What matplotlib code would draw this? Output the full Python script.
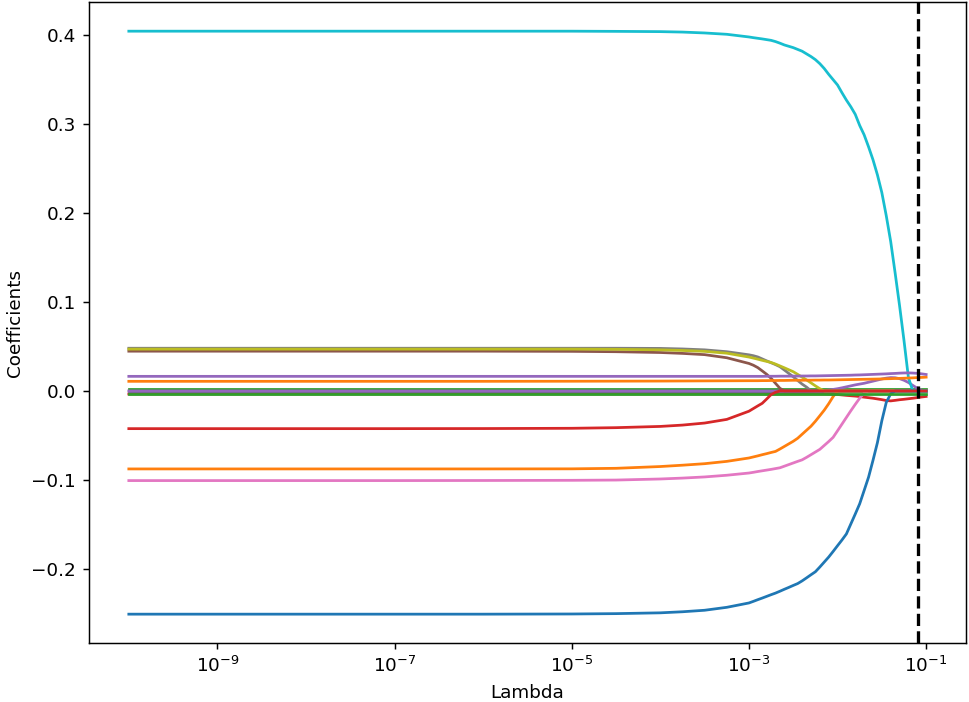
import numpy as np
import matplotlib
matplotlib.use("Agg")
import matplotlib.pyplot as plt
from matplotlib.ticker import NullLocator

# log10 of the regularisation strengths on the path
log_lambdas = ([-10, -7, -6, -5, -4.5, -4, -3.75, -3.5, -3.25]
               + [round(-3.0 + 0.05 * k, 2) for k in range(41)])

coef_00 = [-0.0005] * 50
coef_01 = ([-0.0877, -0.0877, -0.0877, -0.0876, -0.0870, -0.0850, -0.0835, -0.0818, -0.0792]
           + [-0.0754, -0.0742, -0.0730, -0.0717, -0.0705, -0.0692, -0.0680, -0.0653, -0.0624,
              -0.0595, -0.0566, -0.0532, -0.0487, -0.0442, -0.0397, -0.0341, -0.0279, -0.0216,
              -0.0144, -0.0064] + [0.0] * 21)
coef_02 = [0.0026] * 50
coef_03 = ([-0.0035] * 9 + [-0.0035] * 18
           + [-0.0037, -0.0038, -0.0040, -0.0045, -0.0050, -0.0054, -0.0058, -0.0063, -0.0070,
              -0.0076, -0.0082, -0.0090, -0.0098, -0.0108, -0.0112, -0.0106, -0.0099, -0.0094,
              -0.0088, -0.0082, -0.0075, -0.0068, -0.0062])
coef_04 = ([0.0] * 9 + [0.0] * 17
           + [0.0004, 0.0010, 0.0017, 0.0025, 0.0035, 0.0046, 0.0057, 0.0068, 0.0077, 0.0086,
              0.0098, 0.0110, 0.0122, 0.0134, 0.0144, 0.0150, 0.0148, 0.0138, 0.0120, 0.0095,
              0.0062, 0.0030, 0.0008, 0.0])
coef_05 = ([0.0447, 0.0447, 0.0447, 0.0445, 0.0441, 0.0432, 0.0422, 0.0408, 0.0373]
           + [0.0309, 0.0289, 0.0262, 0.0225, 0.0187, 0.0142, 0.0085, 0.0029] + [0.0] * 33)
coef_06 = ([-0.1008, -0.1008, -0.1007, -0.1005, -0.1002, -0.0990, -0.0980, -0.0967, -0.0948]
           + [-0.0923, -0.0915, -0.0906, -0.0898, -0.0890, -0.0882, -0.0873, -0.0864, -0.0846,
              -0.0828, -0.0810, -0.0792, -0.0775, -0.0747, -0.0717, -0.0687, -0.0657, -0.0613,
              -0.0569, -0.0522, -0.0448, -0.0373, -0.0298, -0.0223, -0.0151, -0.0082, -0.0024]
           + [0.0] * 14)
coef_07 = ([0.0480, 0.0480, 0.0480, 0.0480, 0.0480, 0.0478, 0.0472, 0.0462, 0.0441]
           + [0.0406, 0.0396, 0.0382, 0.0360, 0.0338, 0.0317, 0.0296, 0.0272, 0.0235, 0.0197,
              0.0159, 0.0118, 0.0077, 0.0043, 0.0002] + [0.0] * 26)
coef_08 = ([0.0470, 0.0470, 0.0470, 0.0470, 0.0468, 0.0462, 0.0455, 0.0445, 0.0424]
           + [0.0381, 0.0369, 0.0357, 0.0344, 0.0332, 0.0320, 0.0302, 0.0281, 0.0260, 0.0238,
              0.0216, 0.0186, 0.0155, 0.0124, 0.0091, 0.0057, 0.0025] + [0.0] * 24)
coef_09 = ([0.4045, 0.4045, 0.4045, 0.4045, 0.4043, 0.4040, 0.4035, 0.4025, 0.4010]
           + [0.3980, 0.3972, 0.3965, 0.3958, 0.3950, 0.3942, 0.3928, 0.3910, 0.3890, 0.3875,
              0.3860, 0.3840, 0.3820, 0.3790, 0.3760, 0.3725, 0.3680, 0.3625, 0.3560, 0.3500,
              0.3440, 0.3353, 0.3270, 0.3195, 0.3110, 0.2985, 0.2880, 0.2745, 0.2600, 0.2430,
              0.2230, 0.1970, 0.1680, 0.1327, 0.0960, 0.0568, 0.0150] + [0.0] * 4)
coef_10 = ([-0.2510, -0.2510, -0.2510, -0.2508, -0.2504, -0.2495, -0.2483, -0.2466, -0.2433]
           + [-0.2384, -0.2366, -0.2347, -0.2329, -0.2310, -0.2291, -0.2273, -0.2252, -0.2230,
              -0.2209, -0.2187, -0.2166, -0.2136, -0.2102, -0.2067, -0.2033, -0.1980, -0.1924,
              -0.1868, -0.1805, -0.1740, -0.1676, -0.1608, -0.1496, -0.1384, -0.1269, -0.1120,
              -0.0970, -0.0781, -0.0582, -0.0335, -0.0129, -0.0033] + [0.0] * 8)
coef_11 = ([0.0108, 0.0108, 0.0108, 0.0109, 0.0110, 0.0111, 0.0112, 0.0113, 0.0114]
           + [0.0115, 0.0115, 0.0115, 0.0116, 0.0116, 0.0117, 0.0117, 0.0118, 0.0118, 0.0119,
              0.0120, 0.0120, 0.0120, 0.0121, 0.0121, 0.0122, 0.0122, 0.0123, 0.0123, 0.0124,
              0.0125, 0.0126, 0.0127, 0.0128, 0.0129, 0.0130, 0.0131, 0.0132, 0.0133, 0.0134,
              0.0135, 0.0137, 0.0138, 0.0140, 0.0141, 0.0143, 0.0145, 0.0147, 0.0150, 0.0152,
              0.0155])
coef_12 = [-0.0035] * 50
coef_13 = ([-0.0424, -0.0424, -0.0423, -0.0420, -0.0413, -0.0399, -0.0384, -0.0361, -0.0320]
           + [-0.0228, -0.0198, -0.0168, -0.0139, -0.0091, -0.0041, -0.0015] + [0.0] * 34)
coef_14 = ([0.0164] * 9
           + [0.0164, 0.0164, 0.0164, 0.0164, 0.0165, 0.0165, 0.0165, 0.0166, 0.0166, 0.0166,
              0.0167, 0.0167, 0.0168, 0.0168, 0.0169, 0.0169, 0.0170, 0.0171, 0.0172, 0.0173,
              0.0174, 0.0175, 0.0176, 0.0177, 0.0179, 0.0180, 0.0182, 0.0184, 0.0186, 0.0188,
              0.0190, 0.0192, 0.0195, 0.0197, 0.0200, 0.0202, 0.0203, 0.0201, 0.0198, 0.0192,
              0.0185])

best_lambda = 0.0804
xtick_values = [1e-9, 1e-7, 1e-5, 1e-3, 1e-1]

coef_paths = [coef_00, coef_01, coef_02, coef_03, coef_04, coef_05, coef_06, coef_07,
              coef_08, coef_09, coef_10, coef_11, coef_12, coef_13, coef_14]

lambdas = 10.0 ** np.array(log_lambdas)
for c in coef_paths:
    assert len(c) == len(lambdas), len(c)

fig = plt.figure(figsize=(969 / 132, 702 / 132), dpi=132)
ax = fig.add_axes([0.0918, 0.0836, 0.9051, 0.9135])

for coefs in coef_paths:
    ax.plot(lambdas, coefs, lw=1.5)

ax.set_xscale("log")
ax.axvline(best_lambda, color="k", linestyle="--", lw=1.8)
ax.set_xticks(xtick_values)
ax.xaxis.set_minor_locator(NullLocator())
ax.set_xlabel("Lambda")
ax.set_ylabel("Coefficients")

fig.savefig("out.png", dpi=132)
